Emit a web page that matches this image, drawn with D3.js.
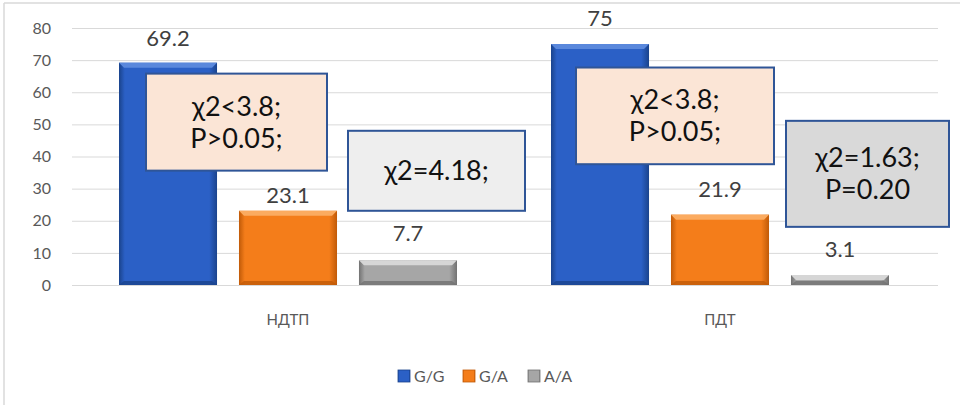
<!DOCTYPE html>
<html>
<head>
<meta charset="utf-8">
<script src="https://cdn.jsdelivr.net/npm/d3@7"></script>
<style>
  body { margin: 0; background: #fff; }
  svg text { font-family: "Lato", "Liberation Sans", sans-serif; }
</style>
</head>
<body>
<div id="chart"></div>
<script>
// dữ liệu
const categories = ["НДТП", "ПДТ"];
const genotypes = ["G/G", "G/A", "A/A"];
const valuesGG = [69.2, 75];
const valuesGA = [23.1, 21.9];
const valuesAA = [7.7, 3.1];
const yTicks = [0, 10, 20, 30, 40, 50, 60, 70, 80];
const noteTexts = [
  ["χ2<3.8;", "P>0.05;"],
  ["χ2=4.18;"],
  ["χ2<3.8;", "P>0.05;"],
  ["χ2=1.63;", "P=0.20"]
];

const width = 960, height = 405;
const svg = d3.select("#chart").append("svg")
  .attr("width", width)
  .attr("height", height);

// khung
svg.append("line").attr("x1", 4).attr("x2", 4).attr("y1", 3).attr("y2", height)
  .attr("stroke", "#d9d9d9").attr("stroke-width", 1.5);
svg.append("line").attr("x1", 4).attr("x2", width).attr("y1", 3).attr("y2", 3)
  .attr("stroke", "#d9d9d9").attr("stroke-width", 1.5);

// gradient cho cột
const colors = {
  "G/G": { mid: "#2b60c6", edge: "#1a438c", top: "#5a88dc" },
  "G/A": { mid: "#f47d1a", edge: "#c05a08", top: "#fbab60" },
  "A/A": { mid: "#a6a6a6", edge: "#727272", top: "#d6d6d6" }
};
const defs = svg.append("defs");
genotypes.forEach((g, i) => {
  const grad = defs.append("linearGradient").attr("id", "grad" + i)
    .attr("x1", "0").attr("x2", "1").attr("y1", "0").attr("y2", "0");
  grad.append("stop").attr("offset", "0").attr("stop-color", colors[g].edge);
  grad.append("stop").attr("offset", "0.06").attr("stop-color", colors[g].mid);
  grad.append("stop").attr("offset", "0.92").attr("stop-color", colors[g].mid);
  grad.append("stop").attr("offset", "1").attr("stop-color", colors[g].edge);
});

// thang đo
const y = d3.scaleLinear().domain([0, 80]).range([285, 28]);
const x0 = d3.scaleBand().domain(categories).range([72, 936]);
const x1 = d3.scaleBand().domain(genotypes).range([47, 385]).paddingInner(0.183);

// lưới
svg.append("g")
  .attr("transform", "translate(72,0)")
  .call(d3.axisLeft(y).tickValues(yTicks).tickSize(-866).tickFormat(d3.format("d")))
  .call(g => g.select(".domain").remove())
  .call(g => g.selectAll(".tick line").attr("stroke", "#d9d9d9").attr("stroke-width", 1))
  .call(g => g.selectAll(".tick text")
    .attr("x", -21)
    .attr("fill", "#595959")
    .style("font-size", "16px"));

// trục x
svg.append("g")
  .attr("transform", "translate(0,285)")
  .call(d3.axisBottom(x0).tickSize(0))
  .call(g => g.select(".domain").remove())
  .call(g => g.selectAll(".tick text")
    .attr("y", 29)
    .attr("fill", "#595959")
    .style("font-size", "15px"));

// dữ liệu cột
const series = [valuesGG, valuesGA, valuesAA];
const rows = [];
categories.forEach((c, ci) => {
  genotypes.forEach((g, gi) => {
    rows.push({ cat: c, geno: g, gi: gi, value: series[gi][ci], idx: rows.length });
  });
});

const bars = svg.append("g").selectAll("g.bar")
  .data(rows)
  .enter()
  .append("g")
  .attr("class", "bar")
  .attr("transform", d => `translate(${x0(d.cat) + x1(d.geno)},0)`);

bars.append("rect")
  .attr("x", 0)
  .attr("y", d => y(d.value))
  .attr("width", x1.bandwidth())
  .attr("height", d => y(0) - y(d.value))
  .attr("fill", d => `url(#grad${d.gi})`);

// viền nổi phía trên
bars.append("path")
  .attr("d", d => {
    const t = y(d.value), w = x1.bandwidth(), b = Math.min(5, (y(0) - t) / 2);
    return `M0,${t} L${w},${t} L${w - 5},${t + b} L5,${t + b} Z`;
  })
  .attr("fill", d => colors[d.geno].top);

// viền tối phía dưới
bars.append("path")
  .attr("d", d => {
    const t = y(d.value), bt = y(0), w = x1.bandwidth(), b = Math.min(4, (bt - t) / 2);
    return `M0,${bt} L${w},${bt} L${w - 5},${bt - b} L5,${bt - b} Z`;
  })
  .attr("fill", d => colors[d.geno].edge)
  .attr("opacity", 0.8);

// nhãn giá trị (khoảng cách từ đỉnh cột, px)
const labelGap = [17, 8, 19, 18, 18, 18];
svg.append("g").selectAll("text")
  .data(rows)
  .enter()
  .append("text")
  .attr("x", d => x0(d.cat) + x1(d.geno) + x1.bandwidth() / 2)
  .attr("y", d => y(d.value) - labelGap[d.idx])
  .attr("text-anchor", "middle")
  .attr("fill", "#404040")
  .style("font-size", "22px")
  .text(d => d.value);

// ô chú thích thống kê
const noteBoxes = [
  { cat: "НДТП", dx: 74, w: 181, top: 65.8, bottom: 35.6, fill: "#fbe5d6" },
  { cat: "НДТП", dx: 276, w: 177, top: 48.0, bottom: 23.1, fill: "#eeeeee" },
  { cat: "ПДТ", dx: 72, w: 198, top: 67.7, bottom: 37.6, fill: "#fbe5d6" },
  { cat: "ПДТ", dx: 282, w: 163, top: 51.1, bottom: 18.1, fill: "#d9d9d9" }
];
const notes = svg.append("g").selectAll("g.note")
  .data(noteBoxes)
  .enter()
  .append("g")
  .attr("class", "note");

notes.append("rect")
  .attr("x", d => x0(d.cat) + d.dx)
  .attr("y", d => y(d.top))
  .attr("width", d => d.w)
  .attr("height", d => y(d.bottom) - y(d.top))
  .attr("fill", d => d.fill)
  .attr("stroke", "#2f5597")
  .attr("stroke-width", 2);

notes.each(function(d, i) {
  const lines = noteTexts[i];
  const cx = x0(d.cat) + d.dx + d.w / 2;
  const cy = (y(d.top) + y(d.bottom)) / 2;
  const lh = 32;
  d3.select(this).selectAll("text")
    .data(lines)
    .enter()
    .append("text")
    .attr("x", cx)
    .attr("y", (t, j) => cy + (j - (lines.length - 1) / 2) * lh)
    .attr("dy", "0.35em")
    .attr("text-anchor", "middle")
    .attr("fill", "#111")
    .style("font-size", "27px")
    .text(t => t);
});

// chú giải
const legend = svg.append("g").attr("transform", "translate(398,370)");
const legendX = [0, 65, 130];
const items = legend.selectAll("g")
  .data(genotypes)
  .enter()
  .append("g")
  .attr("transform", (d, i) => `translate(${legendX[i]},0)`);
items.append("rect")
  .attr("width", 12).attr("height", 12)
  .attr("fill", (d, i) => `url(#grad${i})`)
  .attr("stroke", d => colors[d].edge)
  .attr("stroke-width", 0.8);
items.append("text")
  .attr("x", 16).attr("y", 6).attr("dy", "0.35em")
  .attr("fill", "#595959")
  .style("font-size", "16px")
  .text(d => d);
</script>
</body>
</html>
